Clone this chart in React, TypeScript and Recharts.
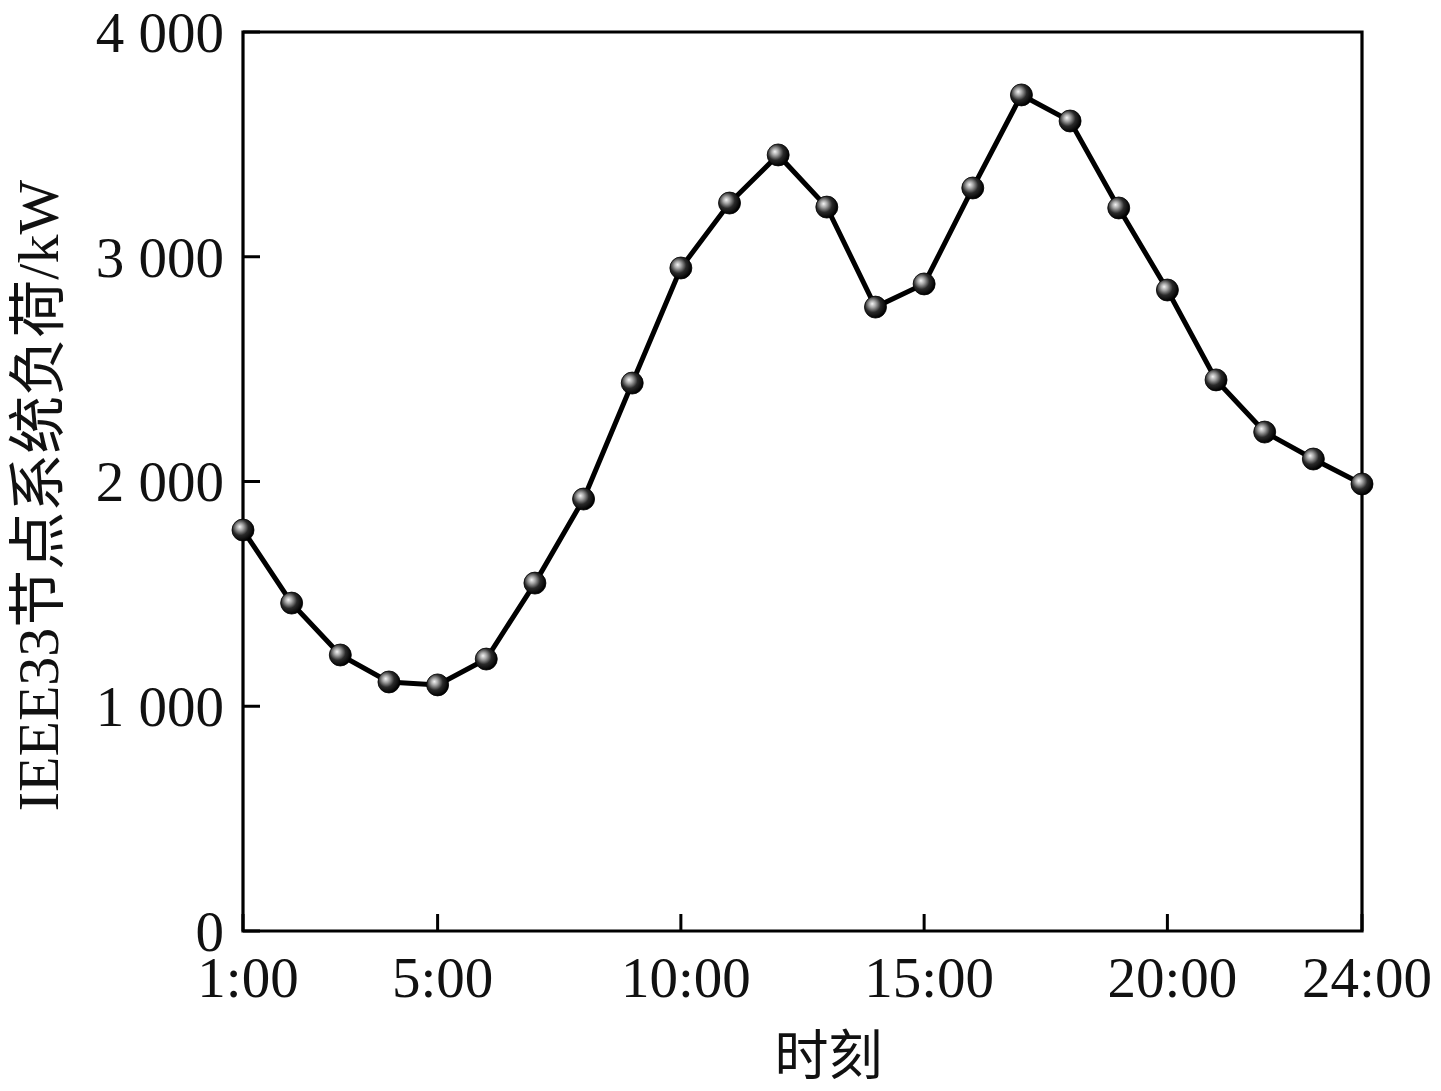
import React from 'react';
import { LineChart, Line, XAxis, YAxis, ReferenceArea } from 'recharts';

const hours = [1, 2, 3, 4, 5, 6, 7, 8, 9, 10, 11, 12, 13, 14, 15, 16, 17, 18, 19, 20, 21, 22, 23, 24];
const loadKW = [1784, 1459, 1228, 1108, 1095, 1210, 1548, 1922, 2438, 2950, 3239, 3453, 3221, 2776, 2879, 3306, 3720, 3604, 3217, 2852, 2452, 2220, 2100, 1989];
const xTicks = [1, 5, 10, 15, 20, 24];
const yTicks = [0, 1000, 2000, 3000, 4000];
const xLabel = '时刻';
const yLabel = 'IEEE33节点系统负荷/kW';

const data = hours.map((h, i) => ({ hour: h, load: loadKW[i] }));

const FONT = "'Liberation Serif', 'Times New Roman', 'Noto Sans CJK SC', serif";
const TEXT = '#111';
const TICK_LEN = 17;

const CHART_W = 1425;
const CHART_H = 1075;
const MARGIN = { top: 24, right: 71, bottom: 0, left: 0 };
const Y_AXIS_W = 235;
const X_AXIS_H = 152;
const AXIS_X = MARGIN.left + Y_AXIS_W;
const AXIS_Y = CHART_H - MARGIN.bottom - X_AXIS_H;

const fmtY = (v: number) => (v === 0 ? '0' : `${Math.floor(v / 1000)} ${String(v % 1000).padStart(3, '0')}`);
const fmtX = (v: number) => `${v}:00`;

const XTick = (props: any) => {
  const { x, payload } = props;
  return (
    <g>
      <line x1={x} x2={x} y1={AXIS_Y} y2={AXIS_Y - TICK_LEN} stroke="#000" strokeWidth={3} />
      <text x={x + 5} y={AXIS_Y + 66} textAnchor="middle" fontSize={57} fontFamily={FONT} fill={TEXT}>
        {fmtX(payload.value)}
      </text>
    </g>
  );
};

const YTick = (props: any) => {
  const { y, payload } = props;
  return (
    <g>
      <line x1={AXIS_X} x2={AXIS_X + TICK_LEN} y1={y} y2={y} stroke="#000" strokeWidth={3} />
      <text x={AXIS_X - 19} y={y} dy="0.35em" textAnchor="end" fontSize={57} fontFamily={FONT} fill={TEXT}>
        {fmtY(payload.value)}
      </text>
    </g>
  );
};

const BallDot = (props: any) => {
  const { cx, cy, index } = props;
  if (cx == null || cy == null) return null;
  return <circle key={`dot-${index}`} cx={cx} cy={cy} r={11} fill="url(#ballGrad)" stroke="#000" strokeWidth={0.8} />;
};

export default function App() {
  return (
    <div style={{ width: CHART_W, height: CHART_H }}>
      <LineChart width={CHART_W} height={CHART_H} data={data} margin={MARGIN}>
        <defs>
          <radialGradient id="ballGrad" cx="40%" cy="40%" r="60%" fx="35%" fy="35%">
            <stop offset="0%" stopColor="#f4f4f4" />
            <stop offset="25%" stopColor="#a8a8a8" />
            <stop offset="60%" stopColor="#2a2a2a" />
            <stop offset="100%" stopColor="#000" />
          </radialGradient>
        </defs>
        <XAxis
          dataKey="hour"
          type="number"
          domain={[1, 24]}
          ticks={xTicks}
          height={X_AXIS_H}
          axisLine={false}
          tickLine={false}
          tick={<XTick />}
          interval={0}
          label={{
            content: (p: any) => {
              const vb = p.viewBox || {};
              return (
                <text
                  x={vb.x + vb.width / 2 + 26}
                  y={vb.y + 126}
                  textAnchor="middle"
                  dominantBaseline="central"
                  fontSize={54}
                  fontFamily={FONT}
                  fill={TEXT}
                >
                  {xLabel}
                </text>
              );
            },
          }}
        />
        <YAxis
          type="number"
          domain={[0, 4000]}
          ticks={yTicks}
          width={Y_AXIS_W}
          axisLine={false}
          tickLine={false}
          tick={<YTick />}
          interval={0}
          label={{
            content: (p: any) => {
              const vb = p.viewBox || {};
              const cx = vb.x + 30;
              const cy = vb.y + vb.height / 2 + 14;
              return (
                <text
                  x={cx}
                  y={cy}
                  transform={`rotate(-90, ${cx}, ${cy})`}
                  textAnchor="middle"
                  dominantBaseline="central"
                  fontSize={58}
                  fontFamily={FONT}
                  fill={TEXT}
                >
                  {yLabel}
                </text>
              );
            },
          }}
        />
        <ReferenceArea
          x1={1}
          x2={24}
          y1={0}
          y2={4000}
          fill="none"
          fillOpacity={0}
          stroke="#000"
          strokeWidth={3.2}
          strokeOpacity={1}
          ifOverflow="visible"
        />
        <Line
          type="linear"
          dataKey="load"
          stroke="#000"
          strokeWidth={5}
          dot={<BallDot />}
          activeDot={false}
          isAnimationActive={false}
        />
      </LineChart>
    </div>
  );
}
